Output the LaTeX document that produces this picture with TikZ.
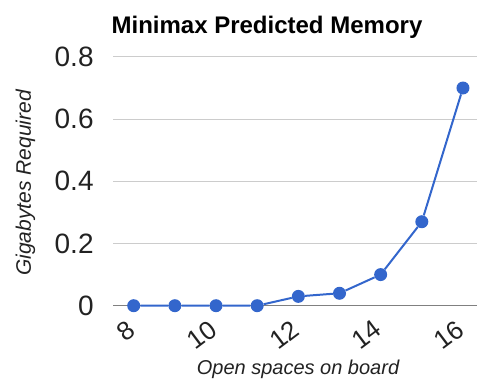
\documentclass[tikz,border=0pt]{standalone}
\usepackage{fontspec}
\setmainfont{Liberation Sans}

\definecolor{seriesblue}{HTML}{3366CC}
\definecolor{gridgray}{HTML}{CCCCCC}
\definecolor{basegray}{HTML}{808080}
\definecolor{labelgray}{HTML}{222222}

\tikzset{
  dot/.style = {circle, fill=seriesblue, inner sep=0pt, minimum size=13pt},
  ylab/.style = {text=labelgray, anchor=east, font=\fontsize{28}{28}\selectfont},
  xlab/.style = {text=labelgray, anchor=north east, rotate=37, inner sep=0pt, font=\fontsize{26}{26}\selectfont},
  axtitle/.style = {text=labelgray, anchor=base, font=\fontsize{20}{20}\selectfont\itshape}
}

\begin{document}
\begin{tikzpicture}[x=1pt, y=1pt]
\useasboundingbox (0,0) rectangle (477,384);
\node[anchor=base, font=\fontsize{24}{24}\selectfont\bfseries] (title) at (267,351) {Minimax Predicted Memory};
\node[axtitle] (xtitle) at (298,10) {Open spaces on board};
\node[axtitle, rotate=90, font=\fontsize{21}{21}\selectfont\itshape] (ytitle) at (31,201) {Gigabytes Required};

\begin{scope}[shift={(133.7,78.3)}, x=41.16pt, y=311pt]
\foreach \v in {0.2,0.4,0.6,0.8}
  \draw[gridgray, line width=1pt] (-0.5,\v) -- (8.34,\v);
\draw[basegray, line width=1.3pt] (-0.5,0) coordinate (xstart) -- (8.34,0) coordinate (xend);
\foreach \v in {0,0.2,0.4,0.6,0.8}
  \node[ylab] (y\v) at ([xshift=-16pt]-0.5,\v) {\v};
\foreach \n in {8,10,12,14,16}
  \node[xlab] (x\n) at ([xshift=-8pt, yshift=-13pt]\n-8,0) {\n};
\foreach \n/\v in {8/0, 9/0, 10/0, 11/0, 12/0.03, 13/0.04, 14/0.1, 15/0.27, 16/0.7}
  \node[dot] (p\n) at (\n-8,\v) {};
\draw[seriesblue, line width=2pt] (p8) -- (p9) -- (p10) -- (p11) -- (p12) -- (p13) -- (p14) -- (p15) -- (p16);
\end{scope}
\end{tikzpicture}
\end{document}
